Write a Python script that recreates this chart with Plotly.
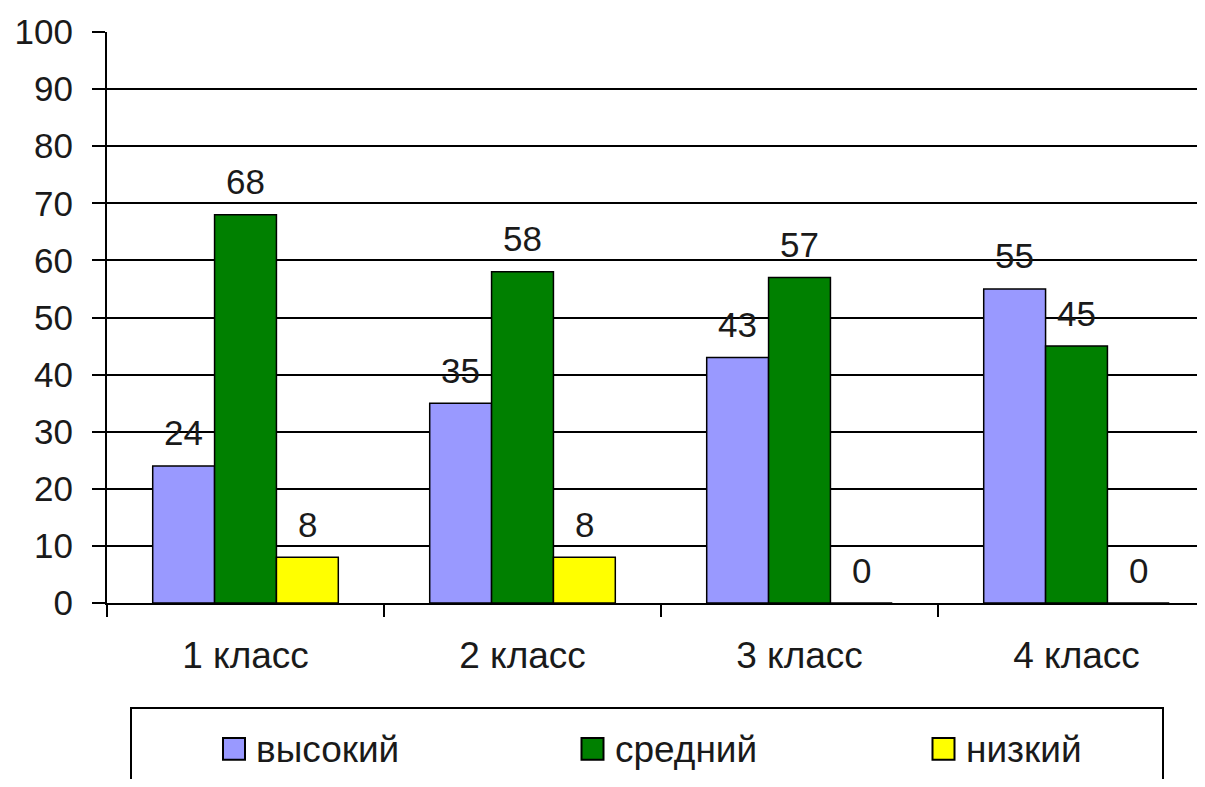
import plotly.graph_objects as go

categories = ["1 класс", "2 класс", "3 класс", "4 класс"]
series_names = ["высокий", "средний", "низкий"]
high = [24, 35, 43, 55]
mid = [68, 58, 57, 45]
low = [8, 8, 0, 0]
series_values = [high, mid, low]
colors = ["#9999FF", "#008000", "#FFFF00"]

FONT = "Liberation Sans, Arial, sans-serif"
TXT = "#1a1a1a"
FS = 35

# page body has an 8px margin, so the figure is drawn 8px in from the corner;
# keep the figure inside the viewport to avoid scrollbars
OFF = 8
W, H = 1205 - OFF, 787 - 2 * OFF
PLOT_BOTTOM_PAGE = 603
ml, mr, mt = 107 - OFF, 0, 31.5 - OFF
mb = H - (PLOT_BOTTOM_PAGE - OFF)
plot_w = W - ml - mr
plot_h = H - mt - mb
cat_px = 277.0
bargap = 0.33
barw = (1 - bargap) / 3

fig = go.Figure()
for j, (name, vals) in enumerate(zip(series_names, series_values)):
    fig.add_trace(go.Bar(
        x=categories, y=vals, name=name, showlegend=False,
        marker=dict(color=colors[j], line=dict(color="black", width=1.5)),
    ))
    for i, v in enumerate(vals):
        fig.add_annotation(
            x=i + (j - 1) * barw, y=v, xref="x", yref="y",
            text=str(v), showarrow=False, yanchor="middle", yshift=33,
            font=dict(family=FONT, size=FS, color=TXT),
        )

# page pixel -> paper coordinates
def px_to_paper_x(px):
    return (px - OFF - ml) / plot_w

def px_to_paper_y(py):
    return (H - mb - (py - OFF)) / plot_h

# legend frame (runs off the bottom edge like in the reference)
fig.add_shape(type="rect", xref="paper", yref="paper",
              x0=px_to_paper_x(131), x1=px_to_paper_x(1163),
              y0=px_to_paper_y(708), y1=px_to_paper_y(840),
              line=dict(color="black", width=2), fillcolor="white", layer="below")

# legend entries: swatch + label
leg_sym_center = [234, 592.5, 943.5]
leg_y = 749
SW = 22
for j, name in enumerate(series_names):
    cx = leg_sym_center[j]
    fig.add_shape(type="rect", xref="paper", yref="paper",
                  x0=px_to_paper_x(cx - SW / 2), x1=px_to_paper_x(cx + SW / 2),
                  y0=px_to_paper_y(leg_y - SW / 2), y1=px_to_paper_y(leg_y + SW / 2),
                  line=dict(color="black", width=2), fillcolor=colors[j])
    fig.add_annotation(xref="paper", yref="paper",
                       x=px_to_paper_x(cx + SW / 2 + 9), y=px_to_paper_y(leg_y + 1),
                       xanchor="left", yanchor="middle", showarrow=False,
                       text=name, font=dict(family=FONT, size=37, color=TXT))

fig.update_layout(
    width=W, height=H, showlegend=False,
    margin=dict(l=ml, r=mr, t=mt, b=mb, pad=0),
    paper_bgcolor="white", plot_bgcolor="white",
    barmode="group", bargap=bargap, bargroupgap=0,
    font=dict(family=FONT, size=FS, color=TXT),
    xaxis=dict(
        type="category", range=[-0.5, -0.5 + plot_w / cat_px],
        showline=True, linecolor="black", linewidth=2,
        ticks="outside", tickson="boundaries", ticklen=12, tickwidth=2, tickcolor="black",
        showgrid=False, ticklabelstandoff=19,
        tickfont=dict(family=FONT, size=37, color=TXT),
    ),
    yaxis=dict(
        range=[0, 100], dtick=10, tick0=0,
        showline=True, linecolor="black", linewidth=2,
        showgrid=True, gridcolor="black", gridwidth=2,
        zeroline=False,
        ticks="outside", ticklen=13, tickwidth=2, tickcolor="black",
        ticklabelstandoff=12,
        tickfont=dict(family=FONT, size=FS, color=TXT),
    ),
)

fig.write_html("out.html")
